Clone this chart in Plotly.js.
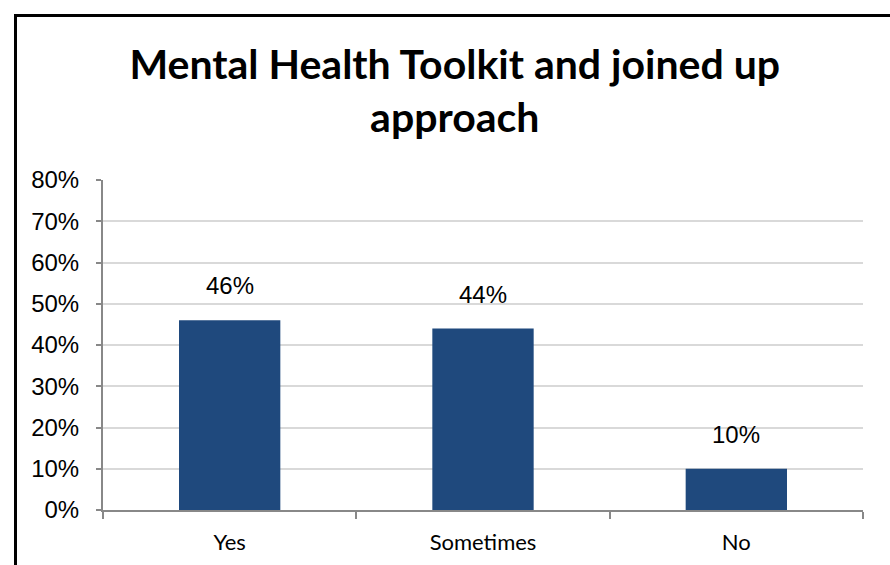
<!DOCTYPE html>
<html>
<head>
<meta charset="utf-8">
<script src="https://cdn.plot.ly/plotly-3.0.1.min.js"></script>
<style>
  html, body { margin: 0; padding: 0; background: #fff; }
  #wrap { position: relative; width: 890px; height: 565px; overflow: hidden; }
  #chart { position: absolute; left: 0; top: 0; width: 890px; height: 565px; }
  #frame { position: absolute; left: 14px; top: 14px; width: 900px; height: 600px;
           border-left: 3px solid #000; border-top: 3px solid #000; pointer-events: none; }
</style>
</head>
<body>
<div id="wrap">
  <div id="chart"></div>
  <div id="frame"></div>
</div>
<script>
const categories = ["Yes", "Sometimes", "No"];
const values = [0.46, 0.44, 0.10];
const labels = ["46%", "44%", "10%"];
const yTickValues = [0, 0.1, 0.2, 0.3, 0.4, 0.5, 0.6, 0.7, 0.8];
const yTickLabels = ["0%", "10%", "20%", "30%", "40%", "50%", "60%", "70%", "80%"];

const trace = {
  type: "bar",
  x: categories,
  y: values,
  marker: { color: "#1F497D", line: { width: 0 } },
  width: 0.4,
  hoverinfo: "skip"
};

const annotations = categories.map((c, i) => ({
  x: c, y: values[i], xref: "x", yref: "y",
  text: labels[i], showarrow: false,
  yanchor: "bottom", yshift: 19,
  font: { family: "Liberation Sans, Arial, sans-serif", size: 24, color: "#000" }
}));

const layout = {
  width: 890, height: 565,
  margin: { l: 103, r: 27, t: 180, b: 55 },
  paper_bgcolor: "#fff", plot_bgcolor: "#fff",
  showlegend: false,
  title: {
    text: "Mental Health Toolkit and joined up<br>approach",
    font: { family: "Lato, Open Sans, sans-serif", size: 41, color: "#000", weight: "bold" },
    x: 0.511, xref: "container", xanchor: "center",
    y: 1 - 79 / 565, yref: "container", yanchor: "top"
  },
  xaxis: {
    type: "category",
    showline: true, linecolor: "#888", linewidth: 2,
    ticks: "outside", ticklen: 7, tickcolor: "#888", tickwidth: 2,
    tickson: "boundaries",
    showgrid: false,
    tickfont: { family: "Lato, Open Sans, sans-serif", size: 22, color: "#000" },
    ticklabelstandoff: 12,
    fixedrange: true
  },
  yaxis: {
    range: [0, 0.8],
    tickvals: yTickValues, ticktext: yTickLabels,
    showline: true, linecolor: "#888", linewidth: 2,
    ticks: "outside", ticklen: 5, tickcolor: "#888", tickwidth: 2,
    showgrid: true, gridcolor: "#d9d9d9", gridwidth: 2,
    zeroline: false,
    tickfont: { family: "Liberation Sans, Arial, sans-serif", size: 24, color: "#000" },
    ticklabelstandoff: 12,
    fixedrange: true
  },
  annotations: annotations
};

Plotly.newPlot("chart", [trace], layout, { displayModeBar: false, staticPlot: true });
</script>
</body>
</html>
